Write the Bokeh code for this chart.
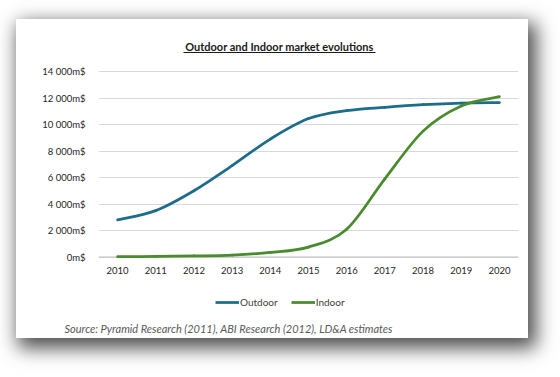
from bokeh.plotting import figure
from bokeh.models import (Range1d, FixedTicker, Span, Label, BoxAnnotation, Legend,
                          LegendItem, Title)
from bokeh.layouts import column
from bokeh.embed import file_html
from bokeh.resources import INLINE
import numpy as np

# ---- data ----
years = [2010, 2011, 2012, 2013, 2014, 2015, 2016, 2017, 2018, 2019, 2020]
year_labels = ["2010", "2011", "2012", "2013", "2014", "2015", "2016", "2017", "2018", "2019", "2020"]
outdoor = [2800, 3500, 5000, 6900, 8900, 10450, 11050, 11300, 11500, 11620, 11650]
indoor = [20, 40, 80, 150, 350, 750, 2100, 5900, 9500, 11400, 12100]
y_ticks = [0, 2000, 4000, 6000, 8000, 10000, 12000, 14000]
y_tick_labels = ["0m$", "2 000m$", "4 000m$", "6 000m$", "8 000m$", "10 000m$", "12 000m$", "14 000m$"]
series_names = ["Outdoor", "Indoor"]
series_colors = ["#1D6C8C", "#4A8B2E"]
title_text = "Outdoor and Indoor market evolutions"
source_text = "Source: Pyramid Research (2011), ABI Research (2012), LD&A estimates"

# ---- layout (page px) ----
CL, CT, CW, CH = 16, 19, 512, 319          # the white card
FL, FR, FT, FB = 98, 518, 19, 262          # chart frame on the page
SPLIT = 285                                # page y where the footer starts
FOOT_FB = 318                              # footer frame bottom (page y)
FONT = "Lato"
Y0, Y14 = 256.5, 71.0                      # page y of 0 and 14 000
PX_PER_UNIT = (Y0 - Y14) / 14000.0


def sx(X):
    return X - FL


def sy(Y):
    return FB - Y


y_end = 14000 + (Y14 - FT) / PX_PER_UNIT
y_start = -(FB - Y0) / PX_PER_UNIT

p = figure(width=CW, height=SPLIT - CT, output_backend="svg", toolbar_location=None,
           x_range=Range1d(2009.5, 2020.5), y_range=Range1d(y_start, y_end),
           min_border_left=FL - CL, min_border_right=CL + CW - FR,
           min_border_top=FT - CT, min_border_bottom=SPLIT - FB)
p.background_fill_color = "white"
p.border_fill_color = "white"
p.outline_line_color = None

# ---- axes ----
p.yaxis.ticker = FixedTicker(ticks=y_ticks)
p.yaxis.major_label_overrides = dict(zip(y_ticks, y_tick_labels))
p.yaxis.axis_line_color = None
p.yaxis.major_tick_line_color = None
p.yaxis.minor_tick_line_color = None
p.yaxis.major_label_standoff = 7
p.yaxis.major_label_text_font = FONT
p.yaxis.major_label_text_font_size = "9.5px"
p.yaxis.major_label_text_color = "#262626"

p.xaxis.ticker = FixedTicker(ticks=years)
p.xaxis.major_label_overrides = dict(zip(years, year_labels))
p.xaxis.axis_line_color = None
p.xaxis.major_tick_line_color = None
p.xaxis.minor_tick_line_color = None
p.xaxis.major_label_standoff = -2
p.xaxis.major_label_text_font = FONT
p.xaxis.major_label_text_font_size = "9.5px"
p.xaxis.major_label_text_color = "#262626"

p.xgrid.visible = False
p.ygrid.grid_line_color = "#D9D9D9"
p.ygrid.grid_line_width = 1

p.add_layout(Span(location=0, dimension="width", line_color="#BFBFBF",
                  line_width=1, level="underlay"))


# ---- smooth lines (Catmull-Rom rendered as Bezier segments) ----
def bezier_segments(xs, ys):
    P = np.column_stack([np.asarray(xs, float), np.asarray(ys, float)])
    n = len(P)
    out = {k: [] for k in ("x0", "y0", "x1", "y1", "cx0", "cy0", "cx1", "cy1")}
    for i in range(n - 1):
        p0 = P[i - 1] if i > 0 else P[i]
        p1, p2 = P[i], P[i + 1]
        p3 = P[i + 2] if i + 2 < n else P[i + 1]
        c1 = p1 + (p2 - p0) / 6.0
        c2 = p2 - (p3 - p1) / 6.0
        out["x0"].append(p1[0]); out["y0"].append(p1[1])
        out["x1"].append(p2[0]); out["y1"].append(p2[1])
        out["cx0"].append(c1[0]); out["cy0"].append(c1[1])
        out["cx1"].append(c2[0]); out["cy1"].append(c2[1])
    return out


for name, vals, col in zip(series_names, [outdoor, indoor], series_colors):
    seg = bezier_segments(years, vals)
    p.bezier(x0=seg["x0"], y0=seg["y0"], x1=seg["x1"], y1=seg["y1"],
             cx0=seg["cx0"], cy0=seg["cy0"], cx1=seg["cx1"], cy1=seg["cy1"],
             line_color=col, line_width=2.75, line_cap="round")

# ---- title (underlined), inside the frame's top area ----
p.add_layout(Label(x=sx(279), y=sy(46), x_units="screen", y_units="screen",
                   text=title_text, text_align="center", text_baseline="middle",
                   text_font=FONT, text_font_style="bold", text_font_size="11px",
                   text_color="#1a1a1a"))
p.add_layout(BoxAnnotation(left=sx(183), right=sx(375), top=sy(51.5), bottom=sy(52.5),
                           left_units="screen", right_units="screen",
                           top_units="screen", bottom_units="screen",
                           fill_color="#1a1a1a", fill_alpha=1.0, line_color=None))

# ---- footer: legend + source ----
H2 = CT + CH - SPLIT
f = figure(width=CW, height=H2, output_backend="svg", toolbar_location=None,
           x_range=Range1d(0, 1), y_range=Range1d(0, 1),
           x_axis_location=None, y_axis_location=None,
           min_border_left=FL - CL, min_border_right=CL + CW - FR,
           min_border_top=0, min_border_bottom=CT + CH - FOOT_FB)
f.background_fill_color = "white"
f.border_fill_color = "white"
f.outline_line_color = None
f.grid.visible = False

items = []
for name, col in zip(series_names, series_colors):
    key = f.line(x=[0.0], y=[float("nan")], line_color=col, line_width=2.75)
    items.append(LegendItem(label=name, renderers=[key]))

legend = Legend(items=items, orientation="horizontal",
                location=(215 - FL, FOOT_FB - 309), padding=0, margin=0, spacing=13,
                glyph_width=24, glyph_height=14, label_height=14, label_standoff=1,
                label_text_font=FONT, label_text_font_size="10px",
                label_text_color="#404040", border_line_color=None,
                background_fill_alpha=0)
f.add_layout(legend)

f.add_layout(Title(text=source_text, align="left", offset=64 - FL, standoff=3,
                   text_font=FONT, text_font_style="italic", text_font_size="11px",
                   text_color="#595959"), "below")

card = column(p, f, spacing=0)
card.margin = (CT, 0, 0, CL)
card.styles = {"box-shadow": "5px 7px 18px 3px rgba(0,0,0,0.7)", "background": "white"}

open("out.html", "w").write(file_html(card, INLINE))
